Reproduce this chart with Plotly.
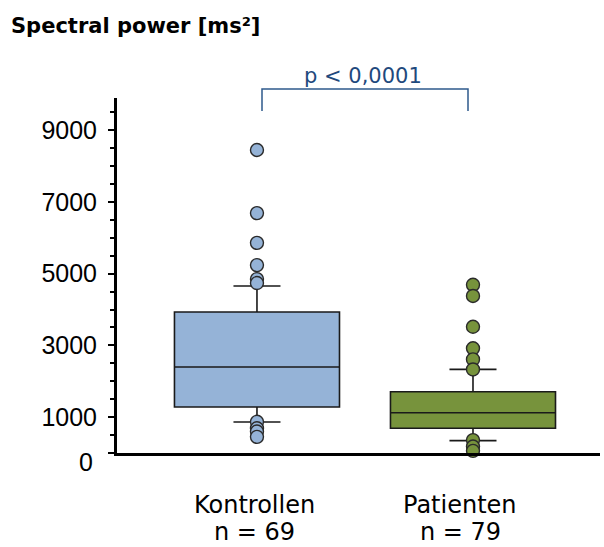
import plotly.graph_objects as go

# ---- data ----
categories = ["Kontrollen", "Patienten"]
n_counts = [69, 79]
q1 = [1283, 689]
median = [2398, 1124]
q3 = [3932, 1710]
lower_whisker = [864, 344]
upper_whisker = [4657, 2333]
outliers_kontrollen = [8450, 6690, 5860, 5240, 4850, 4740, 870, 690, 600, 450]
outliers_patienten = [4690, 4380, 3520, 2920, 2610, 2330, 360, 180, 60]
y_tick_values = [0, 1000, 3000, 5000, 7000, 9000]
y_tick_labels = ["", "1000", "3000", "5000", "7000", "9000"]
p_text = "p < 0,0001"

fill_colors = ["#95B3D7", "#77933C"]
edge = "#1a1a1a"

fig = go.Figure()
outliers = [outliers_kontrollen, outliers_patienten]
for i, cat in enumerate(categories):
    fig.add_trace(go.Box(
        x=[i], q1=[q1[i]], median=[median[i]], q3=[q3[i]],
        lowerfence=[lower_whisker[i]], upperfence=[upper_whisker[i]],
        width=0.764, whiskerwidth=0.285, boxpoints=False,
        fillcolor=fill_colors[i], line=dict(color=edge, width=1.6),
        name=cat, showlegend=False, hoverinfo="skip"))
for i, cat in enumerate(categories):
    fig.add_trace(go.Scatter(
        x=[i] * len(outliers[i]), y=outliers[i], mode="markers",
        marker=dict(size=13, color=fill_colors[i], line=dict(color="#2a2a2a", width=1.4)),
        showlegend=False, cliponaxis=False, hoverinfo="skip"))

W, H = 604, 547
L, R, T, B = 117, 4, 98, 94
pw, ph = W - L - R, H - T - B

def px_x(px):
    return (px - L) / pw

def px_y(py):
    return (H - B - py) / ph

annotations = []
# title
annotations.append(dict(text="Spectral power [ms²]", xref="paper", yref="paper",
                        x=px_x(9), y=px_y(26), xanchor="left", yanchor="middle",
                        showarrow=False, font=dict(family="DejaVu Sans", size=21, color="black", weight="bold")))
# zero label
annotations.append(dict(text="0", xref="paper", yref="paper", x=px_x(95), y=px_y(462),
                        xanchor="right", yanchor="middle", showarrow=False,
                        font=dict(family="Liberation Sans, Arial", size=25, color="black")))
# category labels
label_x = [254, 460]
for i, cat in enumerate(categories):
    annotations.append(dict(text=cat, xref="paper", yref="paper", x=px_x(label_x[i]), y=px_y(505),
                            xanchor="center", yanchor="middle", showarrow=False,
                            font=dict(family="DejaVu Sans", size=24, color="black")))
    annotations.append(dict(text=f"n = {n_counts[i]}", xref="paper", yref="paper", x=px_x(label_x[i]), y=px_y(532),
                            xanchor="center", yanchor="middle", showarrow=False,
                            font=dict(family="DejaVu Sans", size=24, color="black")))
# p-value
annotations.append(dict(text=p_text, xref="paper", yref="paper", x=px_x(363), y=px_y(76),
                        xanchor="center", yanchor="middle", showarrow=False,
                        font=dict(family="DejaVu Sans", size=21, color="#1F497D")))

shapes = [dict(type="path", xref="paper", yref="paper",
               path=f"M {px_x(262)},{px_y(111)} L {px_x(262)},{px_y(89)} L {px_x(468)},{px_y(89)} L {px_x(468)},{px_y(111)}",
               line=dict(color="#2E5A8C", width=1.5))]

fig.update_layout(
    width=W, height=H, margin=dict(l=L, r=R, t=T, b=B),
    paper_bgcolor="white", plot_bgcolor="white",
    annotations=annotations, shapes=shapes,
    xaxis=dict(range=[-0.648, 1.588], showticklabels=False, showgrid=False, zeroline=False,
               showline=True, linewidth=3, linecolor="black", ticks=""),
    yaxis=dict(range=[0, 9900], tickvals=y_tick_values, ticktext=y_tick_labels,
               showgrid=False, zeroline=False, showline=True, linewidth=3, linecolor="black",
               ticks="outside", ticklen=6, tickwidth=2, tickcolor="black",
               ticklabelstandoff=6,
               tickfont=dict(family="Liberation Sans, Arial", size=25, color="black"),
               minor=dict(dtick=500, ticks="outside", ticklen=4, tickwidth=2, tickcolor="black", showgrid=False)),
)
fig.write_html("out.html")
